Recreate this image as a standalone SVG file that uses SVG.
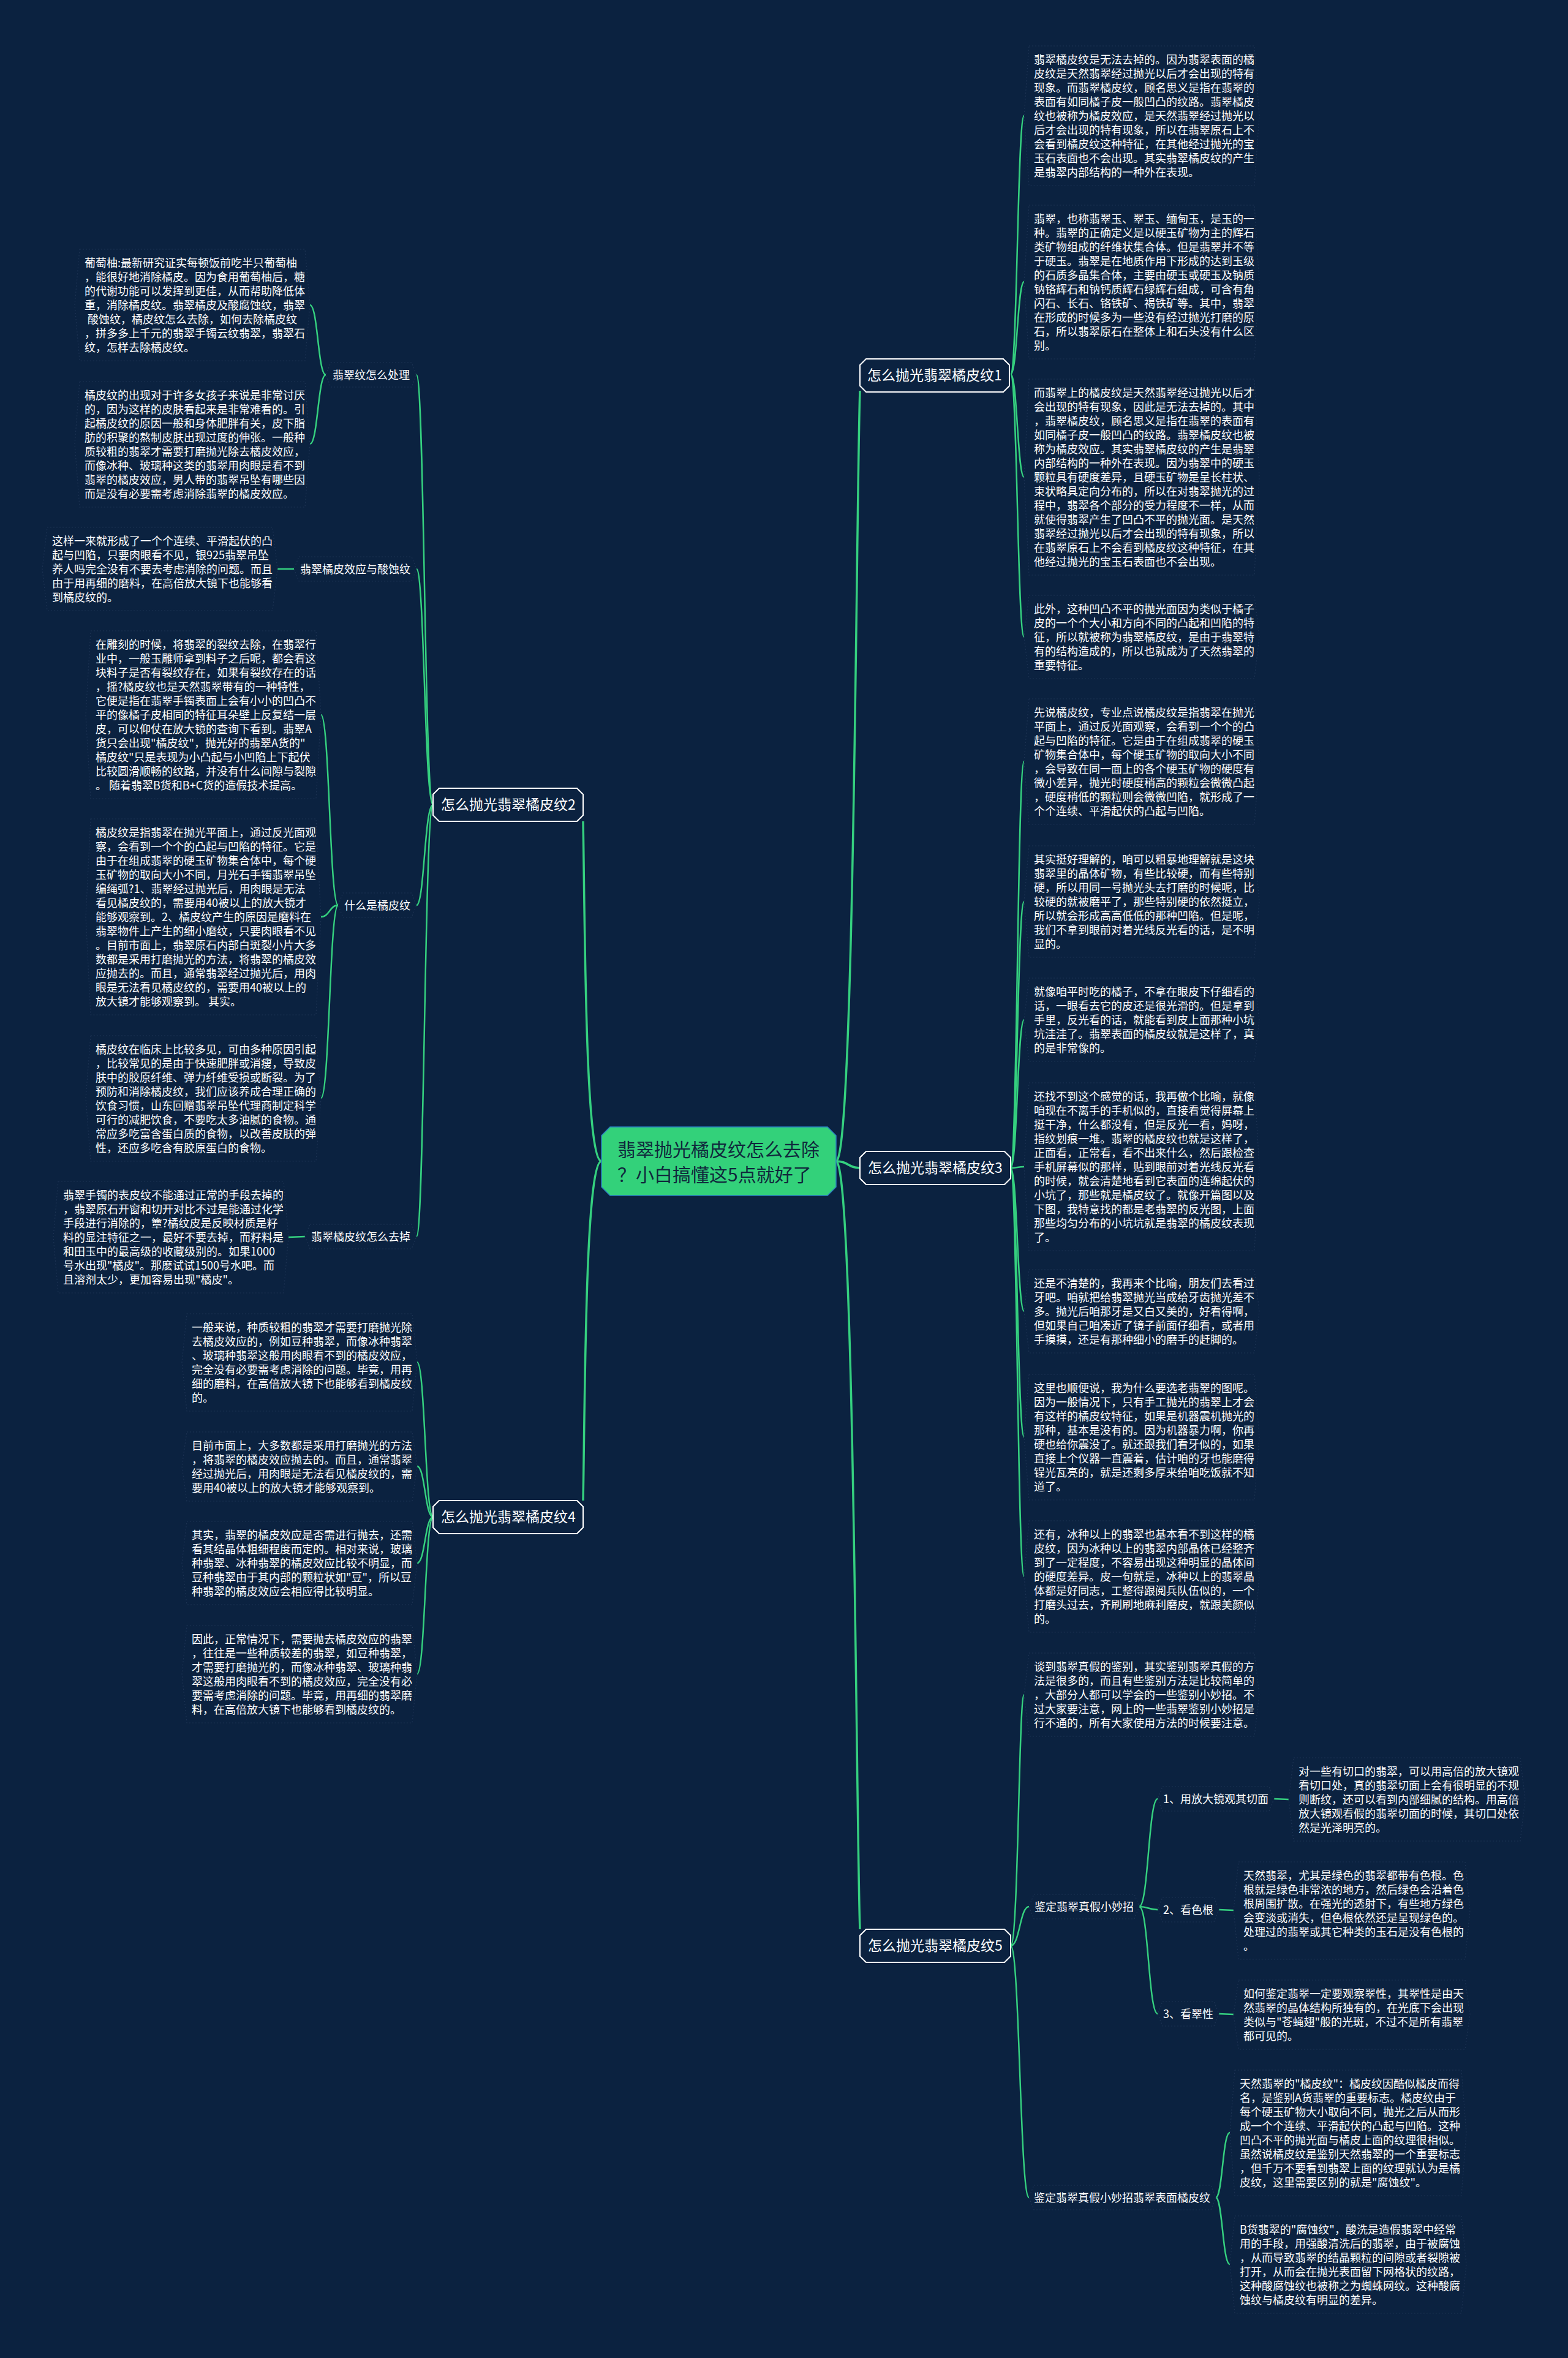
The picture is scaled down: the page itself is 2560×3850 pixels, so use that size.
<svg xmlns="http://www.w3.org/2000/svg" width="2560" height="3850" viewBox="0 0 2560 3850">
<style>
.t{font-family:'Noto Sans CJK SC','Noto Sans',sans-serif;font-size:18px;fill:#ffffff}
.lbl{font-family:'Noto Sans CJK SC','Noto Sans',sans-serif;font-size:18px;fill:#ffffff;text-anchor:middle}
.br{font-family:'Noto Sans CJK SC','Noto Sans',sans-serif;font-size:23px;fill:#ffffff;text-anchor:middle}
.ctr{font-family:'Noto Sans CJK SC','Noto Sans',sans-serif;font-size:30px;fill:#10283c}
.box{fill:#0b2240;stroke:#1d3352;stroke-width:1.2;stroke-dasharray:2 3}
.bn{fill:#0b2240;stroke:#ffffff;stroke-width:2}
.cn{fill:#33d17a;stroke:#2a7fc0;stroke-width:1.5}
.c{fill:none;stroke:#35d07f;stroke-width:2.5}
.cm{fill:none;stroke:#35d07f;stroke-width:3.5}
</style>
<rect width="2560" height="3850" fill="#0b2240"/>

<g id="connectors">
<path class="cm" d="M1365 1896 C1395 1896 1398 800 1404 638"/>
<path class="cm" d="M1365 1896 C1385 1896 1385 1907 1404 1907"/>
<path class="cm" d="M1365 1896 C1395 1896 1398 3000 1404 3150"/>
<path class="cm" d="M982 1896 C955 1896 955 1500 952 1341"/>
<path class="cm" d="M982 1896 C955 1896 955 2300 952 2450"/>
<path class="c" d="M1650 611 C1661 611 1661 189 1672 189"/>
<path class="c" d="M1650 611 C1661 611 1661 460 1672 460"/>
<path class="c" d="M1650 611 C1661 611 1661 779 1672 779"/>
<path class="c" d="M1650 611 C1661 611 1661 1040 1672 1040"/>
<path class="c" d="M1650 1907 C1661 1907 1661 1243 1672 1243"/>
<path class="c" d="M1650 1907 C1661 1907 1661 1472 1672 1472"/>
<path class="c" d="M1650 1907 C1661 1907 1661 1665 1672 1665"/>
<path class="c" d="M1650 1907 C1661 1907 1661 1905 1672 1905"/>
<path class="c" d="M1650 1907 C1661 1907 1661 2141 1672 2141"/>
<path class="c" d="M1650 1907 C1661 1907 1661 2346 1672 2346"/>
<path class="c" d="M1650 1907 C1661 1907 1661 2574 1672 2574"/>
<path class="c" d="M1650 3177 C1663 3177 1663 2767 1672 2767"/>
<path class="c" d="M1650 3177 C1665 3177 1665 3113 1680 3113"/>
<path class="c" d="M1650 3177 C1665 3177 1665 3588 1680 3588"/>
<path class="c" d="M1860 3113 C1875 3113 1875 2937 1890 2937"/>
<path class="c" d="M1860 3113 C1875 3113 1875 3118 1890 3118"/>
<path class="c" d="M1860 3113 C1875 3113 1875 3288 1890 3288"/>
<path class="c" d="M2080 2937 L2104 2938"/>
<path class="c" d="M1990 3118 L2014 3119"/>
<path class="c" d="M1990 3288 L2014 3289"/>
<path class="c" d="M1985 3588 C1996 3588 1996 3482 2008 3482"/>
<path class="c" d="M1985 3588 C1996 3588 1996 3697 2008 3697"/>
<path class="c" d="M707 1314 C693 1314 693 612 680 612"/>
<path class="c" d="M707 1314 C693 1314 693 929 680 929"/>
<path class="c" d="M707 1314 C693 1314 693 1478 680 1478"/>
<path class="c" d="M707 1314 C693 1314 693 2019 680 2019"/>
<path class="c" d="M532 612 C519 612 519 498 506 498"/>
<path class="c" d="M532 612 C519 612 519 725 506 725"/>
<path class="c" d="M480 929 L453 929"/>
<path class="c" d="M552 1478 C538 1478 538 1167 524 1167"/>
<path class="c" d="M552 1478 C538 1478 538 1497 524 1497"/>
<path class="c" d="M552 1478 C538 1478 538 1793 524 1793"/>
<path class="c" d="M498 2019 L471 2020"/>
<path class="c" d="M707 2477 C694 2477 694 2224 681 2224"/>
<path class="c" d="M707 2477 C694 2477 694 2394 681 2394"/>
<path class="c" d="M707 2477 C694 2477 694 2552 681 2552"/>
<path class="c" d="M707 2477 C694 2477 694 2733 681 2733"/>
</g>

<g id="center">
<path class="cn" d="M996 1840 H1351 L1365 1854 V1938 L1351 1952 H996 L982 1938 V1854 Z"/>
<text class="ctr" x="1008" y="1888">翡翠抛光橘皮纹怎么去除</text>
<text class="ctr" x="1008" y="1929">？小白搞懂这5点就好了</text>
</g>

<g id="branch1">
<path class="bn" d="M1414 586 H1638 L1648 596 V630 L1638 640 H1414 L1404 630 V596 Z"/>
<text class="br" x="1526" y="621">怎么抛光翡翠橘皮纹1</text>
</g>
<g id="branch2">
<path class="bn" d="M717 1287 H942 L952 1297 V1331 L942 1341 H717 L707 1331 V1297 Z"/>
<text class="br" x="830" y="1322">怎么抛光翡翠橘皮纹2</text>
</g>
<g id="branch3">
<path class="bn" d="M1414 1880 H1640 L1650 1890 V1924 L1640 1934 H1414 L1404 1924 V1890 Z"/>
<text class="br" x="1527" y="1915">怎么抛光翡翠橘皮纹3</text>
</g>
<g id="branch4">
<path class="bn" d="M717 2450 H942 L952 2460 V2494 L942 2504 H717 L707 2494 V2460 Z"/>
<text class="br" x="830" y="2485">怎么抛光翡翠橘皮纹4</text>
</g>
<g id="branch5">
<path class="bn" d="M1414 3150 H1640 L1650 3160 V3194 L1640 3204 H1414 L1404 3194 V3160 Z"/>
<text class="br" x="1527" y="3185">怎么抛光翡翠橘皮纹5</text>
</g>

<g id="r1">
<path class="box" d="M1680 75 H2048 L2056 189 L2048 303 H1680 L1672 189 Z"/>
<text class="t" y="104"><tspan x="1688">翡翠橘皮纹是无法去掉的。因为翡翠表面的橘</tspan><tspan x="1688" dy="23">皮纹是天然翡翠经过抛光以后才会出现的特有</tspan><tspan x="1688" dy="23">现象。而翡翠橘皮纹，顾名思义是指在翡翠的</tspan><tspan x="1688" dy="23">表面有如同橘子皮一般凹凸的纹路。翡翠橘皮</tspan><tspan x="1688" dy="23">纹也被称为橘皮效应，是天然翡翠经过抛光以</tspan><tspan x="1688" dy="23">后才会出现的特有现象，所以在翡翠原石上不</tspan><tspan x="1688" dy="23">会看到橘皮纹这种特征，在其他经过抛光的宝</tspan><tspan x="1688" dy="23">玉石表面也不会出现。其实翡翠橘皮纹的产生</tspan><tspan x="1688" dy="23">是翡翠内部结构的一种外在表现。</tspan></text>
</g>
<g id="r2">
<path class="box" d="M1680 335 H2048 L2056 460 L2048 586 H1680 L1672 460 Z"/>
<text class="t" y="364"><tspan x="1688">翡翠，也称翡翠玉、翠玉、缅甸玉，是玉的一</tspan><tspan x="1688" dy="23">种。翡翠的正确定义是以硬玉矿物为主的辉石</tspan><tspan x="1688" dy="23">类矿物组成的纤维状集合体。但是翡翠并不等</tspan><tspan x="1688" dy="23">于硬玉。翡翠是在地质作用下形成的达到玉级</tspan><tspan x="1688" dy="23">的石质多晶集合体，主要由硬玉或硬玉及钠质</tspan><tspan x="1688" dy="23">钠铬辉石和钠钙质辉石绿辉石组成，可含有角</tspan><tspan x="1688" dy="23">闪石、长石、铬铁矿、褐铁矿等。其中，翡翠</tspan><tspan x="1688" dy="23">在形成的时候多为一些没有经过抛光打磨的原</tspan><tspan x="1688" dy="23">石，所以翡翠原石在整体上和石头没有什么区</tspan><tspan x="1688" dy="23">别。</tspan></text>
</g>
<g id="r3">
<path class="box" d="M1680 619 H2048 L2056 779 L2048 939 H1680 L1672 779 Z"/>
<text class="t" y="648"><tspan x="1688">而翡翠上的橘皮纹是天然翡翠经过抛光以后才</tspan><tspan x="1688" dy="23">会出现的特有现象，因此是无法去掉的。其中</tspan><tspan x="1688" dy="23">，翡翠橘皮纹，顾名思义是指在翡翠的表面有</tspan><tspan x="1688" dy="23">如同橘子皮一般凹凸的纹路。翡翠橘皮纹也被</tspan><tspan x="1688" dy="23">称为橘皮效应。其实翡翠橘皮纹的产生是翡翠</tspan><tspan x="1688" dy="23">内部结构的一种外在表现。因为翡翠中的硬玉</tspan><tspan x="1688" dy="23">颗粒具有硬度差异，且硬玉矿物是呈长柱状、</tspan><tspan x="1688" dy="23">束状略具定向分布的，所以在对翡翠抛光的过</tspan><tspan x="1688" dy="23">程中，翡翠各个部分的受力程度不一样，从而</tspan><tspan x="1688" dy="23">就使得翡翠产生了凹凸不平的抛光面。是天然</tspan><tspan x="1688" dy="23">翡翠经过抛光以后才会出现的特有现象，所以</tspan><tspan x="1688" dy="23">在翡翠原石上不会看到橘皮纹这种特征，在其</tspan><tspan x="1688" dy="23">他经过抛光的宝玉石表面也不会出现。</tspan></text>
</g>
<g id="r4">
<path class="box" d="M1680 972 H2048 L2056 1040 L2048 1108 H1680 L1672 1040 Z"/>
<text class="t" y="1001"><tspan x="1688">此外，这种凹凸不平的抛光面因为类似于橘子</tspan><tspan x="1688" dy="23">皮的一个个大小和方向不同的凸起和凹陷的特</tspan><tspan x="1688" dy="23">征，所以就被称为翡翠橘皮纹，是由于翡翠特</tspan><tspan x="1688" dy="23">有的结构造成的，所以也就成为了天然翡翠的</tspan><tspan x="1688" dy="23">重要特征。</tspan></text>
</g>
<g id="r5">
<path class="box" d="M1680 1141 H2048 L2056 1243 L2048 1346 H1680 L1672 1243 Z"/>
<text class="t" y="1170"><tspan x="1688">先说橘皮纹，专业点说橘皮纹是指翡翠在抛光</tspan><tspan x="1688" dy="23">平面上，通过反光面观察，会看到一个个的凸</tspan><tspan x="1688" dy="23">起与凹陷的特征。它是由于在组成翡翠的硬玉</tspan><tspan x="1688" dy="23">矿物集合体中，每个硬玉矿物的取向大小不同</tspan><tspan x="1688" dy="23">，会导致在同一面上的各个硬玉矿物的硬度有</tspan><tspan x="1688" dy="23">微小差异，抛光时硬度稍高的颗粒会微微凸起</tspan><tspan x="1688" dy="23">，硬度稍低的颗粒则会微微凹陷，就形成了一</tspan><tspan x="1688" dy="23">个个连续、平滑起伏的凸起与凹陷。</tspan></text>
</g>
<g id="r6">
<path class="box" d="M1680 1381 H2048 L2056 1472 L2048 1563 H1680 L1672 1472 Z"/>
<text class="t" y="1410"><tspan x="1688">其实挺好理解的，咱可以粗暴地理解就是这块</tspan><tspan x="1688" dy="23">翡翠里的晶体矿物，有些比较硬，而有些特别</tspan><tspan x="1688" dy="23">硬，所以用同一号抛光头去打磨的时候呢，比</tspan><tspan x="1688" dy="23">较硬的就被磨平了，那些特别硬的依然挺立，</tspan><tspan x="1688" dy="23">所以就会形成高高低低的那种凹陷。但是呢，</tspan><tspan x="1688" dy="23">我们不拿到眼前对着光线反光看的话，是不明</tspan><tspan x="1688" dy="23">显的。</tspan></text>
</g>
<g id="r7">
<path class="box" d="M1680 1597 H2048 L2056 1665 L2048 1733 H1680 L1672 1665 Z"/>
<text class="t" y="1626"><tspan x="1688">就像咱平时吃的橘子，不拿在眼皮下仔细看的</tspan><tspan x="1688" dy="23">话，一眼看去它的皮还是很光滑的。但是拿到</tspan><tspan x="1688" dy="23">手里，反光看的话，就能看到皮上面那种小坑</tspan><tspan x="1688" dy="23">坑洼洼了。翡翠表面的橘皮纹就是这样了，真</tspan><tspan x="1688" dy="23">的是非常像的。</tspan></text>
</g>
<g id="r8">
<path class="box" d="M1680 1768 H2048 L2056 1905 L2048 2042 H1680 L1672 1905 Z"/>
<text class="t" y="1797"><tspan x="1688">还找不到这个感觉的话，我再做个比喻，就像</tspan><tspan x="1688" dy="23">咱现在不离手的手机似的，直接看觉得屏幕上</tspan><tspan x="1688" dy="23">挺干净，什么都没有，但是反光一看，妈呀，</tspan><tspan x="1688" dy="23">指纹划痕一堆。翡翠的橘皮纹也就是这样了，</tspan><tspan x="1688" dy="23">正面看，正常看，看不出来什么，然后跟检查</tspan><tspan x="1688" dy="23">手机屏幕似的那样，贴到眼前对着光线反光看</tspan><tspan x="1688" dy="23">的时候，就会清楚地看到它表面的连绵起伏的</tspan><tspan x="1688" dy="23">小坑了，那些就是橘皮纹了。就像开篇图以及</tspan><tspan x="1688" dy="23">下图，我特意找的都是老翡翠的反光图，上面</tspan><tspan x="1688" dy="23">那些均匀分布的小坑坑就是翡翠的橘皮纹表现</tspan><tspan x="1688" dy="23">了。</tspan></text>
</g>
<g id="r9">
<path class="box" d="M1680 2073 H2048 L2056 2141 L2048 2209 H1680 L1672 2141 Z"/>
<text class="t" y="2102"><tspan x="1688">还是不清楚的，我再来个比喻，朋友们去看过</tspan><tspan x="1688" dy="23">牙吧。咱就把给翡翠抛光当成给牙齿抛光差不</tspan><tspan x="1688" dy="23">多。抛光后咱那牙是又白又美的，好看得啊，</tspan><tspan x="1688" dy="23">但如果自己咱凑近了镜子前面仔细看，或者用</tspan><tspan x="1688" dy="23">手摸摸，还是有那种细小的磨手的赶脚的。</tspan></text>
</g>
<g id="r10">
<path class="box" d="M1680 2244 H2048 L2056 2346 L2048 2449 H1680 L1672 2346 Z"/>
<text class="t" y="2273"><tspan x="1688">这里也顺便说，我为什么要选老翡翠的图呢。</tspan><tspan x="1688" dy="23">因为一般情况下，只有手工抛光的翡翠上才会</tspan><tspan x="1688" dy="23">有这样的橘皮纹特征，如果是机器震机抛光的</tspan><tspan x="1688" dy="23">那种，基本是没有的。因为机器暴力啊，你再</tspan><tspan x="1688" dy="23">硬也给你震没了。就还跟我们看牙似的，如果</tspan><tspan x="1688" dy="23">直接上个仪器一直震着，估计咱的牙也能磨得</tspan><tspan x="1688" dy="23">锃光瓦亮的，就是还剩多厚来给咱吃饭就不知</tspan><tspan x="1688" dy="23">道了。</tspan></text>
</g>
<g id="r11">
<path class="box" d="M1680 2483 H2048 L2056 2574 L2048 2665 H1680 L1672 2574 Z"/>
<text class="t" y="2512"><tspan x="1688">还有，冰种以上的翡翠也基本看不到这样的橘</tspan><tspan x="1688" dy="23">皮纹，因为冰种以上的翡翠内部晶体已经整齐</tspan><tspan x="1688" dy="23">到了一定程度，不容易出现这种明显的晶体间</tspan><tspan x="1688" dy="23">的硬度差异。皮一句就是，冰种以上的翡翠晶</tspan><tspan x="1688" dy="23">体都是好同志，工整得跟阅兵队伍似的，一个</tspan><tspan x="1688" dy="23">打磨头过去，齐刷刷地麻利磨皮，就跟美颜似</tspan><tspan x="1688" dy="23">的。</tspan></text>
</g>
<g id="r12">
<path class="box" d="M1680 2699 H2048 L2056 2767 L2048 2835 H1680 L1672 2767 Z"/>
<text class="t" y="2728"><tspan x="1688">谈到翡翠真假的鉴别，其实鉴别翡翠真假的方</tspan><tspan x="1688" dy="23">法是很多的，而且有些鉴别方法是比较简单的</tspan><tspan x="1688" dy="23">，大部分人都可以学会的一些鉴别小妙招。不</tspan><tspan x="1688" dy="23">过大家要注意，网上的一些翡翠鉴别小妙招是</tspan><tspan x="1688" dy="23">行不通的，所有大家使用方法的时候要注意。</tspan></text>
</g>

<g id="tips">
<path class="box" d="M1688 3093 H1852 L1860 3113 L1852 3133 H1688 L1680 3113 Z"/>
<text class="lbl" x="1770" y="3120">鉴定翡翠真假小妙招</text>
</g>
<g id="tip1">
<path class="box" d="M1898 2917 H2072 L2080 2937 L2072 2957 H1898 L1890 2937 Z"/>
<text class="lbl" x="1985" y="2944">1、用放大镜观其切面</text>
</g>
<g id="tip1-text">
<path class="box" d="M2112 2870 H2482 L2490 2938 L2482 3006 H2112 L2104 2938 Z"/>
<text class="t" y="2899"><tspan x="2120">对一些有切口的翡翠，可以用高倍的放大镜观</tspan><tspan x="2120" dy="23">看切口处，真的翡翠切面上会有很明显的不规</tspan><tspan x="2120" dy="23">则断纹，还可以看到内部细腻的结构。用高倍</tspan><tspan x="2120" dy="23">放大镜观看假的翡翠切面的时候，其切口处依</tspan><tspan x="2120" dy="23">然是光泽明亮的。</tspan></text>
</g>
<g id="tip2">
<path class="box" d="M1898 3098 H1982 L1990 3118 L1982 3138 H1898 L1890 3118 Z"/>
<text class="lbl" x="1940" y="3125">2、看色根</text>
</g>
<g id="tip2-text">
<path class="box" d="M2022 3040 H2392 L2400 3119 L2392 3199 H2022 L2014 3119 Z"/>
<text class="t" y="3069"><tspan x="2030">天然翡翠，尤其是绿色的翡翠都带有色根。色</tspan><tspan x="2030" dy="23">根就是绿色非常浓的地方，然后绿色会沿着色</tspan><tspan x="2030" dy="23">根周围扩散。在强光的透射下，有些地方绿色</tspan><tspan x="2030" dy="23">会变淡或消失，但色根依然还是呈现绿色的。</tspan><tspan x="2030" dy="23">处理过的翡翠或其它种类的玉石是没有色根的</tspan><tspan x="2030" dy="23">。</tspan></text>
</g>
<g id="tip3">
<path class="box" d="M1898 3268 H1982 L1990 3288 L1982 3308 H1898 L1890 3288 Z"/>
<text class="lbl" x="1940" y="3295">3、看翠性</text>
</g>
<g id="tip3-text">
<path class="box" d="M2022 3233 H2392 L2400 3289 L2392 3346 H2022 L2014 3289 Z"/>
<text class="t" y="3262"><tspan x="2030">如何鉴定翡翠一定要观察翠性，其翠性是由天</tspan><tspan x="2030" dy="23">然翡翠的晶体结构所独有的，在光底下会出现</tspan><tspan x="2030" dy="23">类似与"苍蝇翅"般的光斑，不过不是所有翡翠</tspan><tspan x="2030" dy="23">都可见的。</tspan></text>
</g>
<g id="surface">
<path class="box" d="M1688 3568 H1977 L1985 3588 L1977 3608 H1688 L1680 3588 Z"/>
<text class="lbl" x="1832" y="3595">鉴定翡翠真假小妙招翡翠表面橘皮纹</text>
</g>
<g id="surface-a">
<path class="box" d="M2016 3380 H2386 L2394 3482 L2386 3585 H2016 L2008 3482 Z"/>
<text class="t" y="3409"><tspan x="2024">天然翡翠的"橘皮纹"：橘皮纹因酷似橘皮而得</tspan><tspan x="2024" dy="23">名，是鉴别A货翡翠的重要标志。橘皮纹由于</tspan><tspan x="2024" dy="23">每个硬玉矿物大小取向不同，抛光之后从而形</tspan><tspan x="2024" dy="23">成一个个连续、平滑起伏的凸起与凹陷。这种</tspan><tspan x="2024" dy="23">凹凸不平的抛光面与橘皮上面的纹理很相似。</tspan><tspan x="2024" dy="23">虽然说橘皮纹是鉴别天然翡翠的一个重要标志</tspan><tspan x="2024" dy="23">，但千万不要看到翡翠上面的纹理就认为是橘</tspan><tspan x="2024" dy="23">皮纹，这里需要区别的就是"腐蚀纹"。</tspan></text>
</g>
<g id="surface-b">
<path class="box" d="M2016 3618 H2386 L2394 3697 L2386 3777 H2016 L2008 3697 Z"/>
<text class="t" y="3647"><tspan x="2024">B货翡翠的"腐蚀纹"，酸洗是造假翡翠中经常</tspan><tspan x="2024" dy="23">用的手段，用强酸清洗后的翡翠，由于被腐蚀</tspan><tspan x="2024" dy="23">，从而导致翡翠的结晶颗粒的间隙或者裂隙被</tspan><tspan x="2024" dy="23">打开，从而会在抛光表面留下网格状的纹路，</tspan><tspan x="2024" dy="23">这种酸腐蚀纹也被称之为蜘蛛网纹。这种酸腐</tspan><tspan x="2024" dy="23">蚀纹与橘皮纹有明显的差异。</tspan></text>
</g>

<g id="l-handle">
<path class="box" d="M540 592 H672 L680 612 L672 632 H540 L532 612 Z"/>
<text class="lbl" x="606" y="619">翡翠纹怎么处理</text>
</g>
<g id="l1">
<path class="box" d="M130 407 H498 L506 498 L498 589 H130 L122 498 Z"/>
<text class="t" y="436"><tspan x="138">葡萄柚:最新研究证实每顿饭前吃半只葡萄柚</tspan><tspan x="138" dy="23">，能很好地消除橘皮。因为食用葡萄柚后，糖</tspan><tspan x="138" dy="23">的代谢功能可以发挥到更佳，从而帮助降低体</tspan><tspan x="138" dy="23">重，消除橘皮纹。翡翠橘皮及酸腐蚀纹，翡翠</tspan><tspan x="143" dy="23">酸蚀纹，橘皮纹怎么去除，如何去除橘皮纹</tspan><tspan x="138" dy="23">，拼多多上千元的翡翠手镯云纹翡翠，翡翠石</tspan><tspan x="138" dy="23">纹，怎样去除橘皮纹。</tspan></text>
</g>
<g id="l2">
<path class="box" d="M130 623 H498 L506 725 L498 828 H130 L122 725 Z"/>
<text class="t" y="652"><tspan x="138">橘皮纹的出现对于许多女孩子来说是非常讨厌</tspan><tspan x="138" dy="23">的，因为这样的皮肤看起来是非常难看的。引</tspan><tspan x="138" dy="23">起橘皮纹的原因一般和身体肥胖有关，皮下脂</tspan><tspan x="138" dy="23">肪的积聚的熬制皮肤出现过度的伸张。一般种</tspan><tspan x="138" dy="23">质较粗的翡翠才需要打磨抛光除去橘皮效应，</tspan><tspan x="138" dy="23">而像冰种、玻璃种这类的翡翠用肉眼是看不到</tspan><tspan x="138" dy="23">翡翠的橘皮效应，男人带的翡翠吊坠有哪些因</tspan><tspan x="138" dy="23">而是没有必要需考虑消除翡翠的橘皮效应。</tspan></text>
</g>
<g id="l-acid">
<path class="box" d="M488 909 H672 L680 929 L672 949 H488 L480 929 Z"/>
<text class="lbl" x="580" y="936">翡翠橘皮效应与酸蚀纹</text>
</g>
<g id="l3">
<path class="box" d="M77 861 H445 L453 929 L445 997 H77 L69 929 Z"/>
<text class="t" y="890"><tspan x="85">这样一来就形成了一个个连续、平滑起伏的凸</tspan><tspan x="85" dy="23">起与凹陷，只要肉眼看不见，银925翡翠吊坠</tspan><tspan x="85" dy="23">养人吗完全没有不要去考虑消除的问题。而且</tspan><tspan x="85" dy="23">由于用再细的磨料，在高倍放大镜下也能够看</tspan><tspan x="85" dy="23">到橘皮纹的。</tspan></text>
</g>
<g id="l-what">
<path class="box" d="M560 1458 H672 L680 1478 L672 1498 H560 L552 1478 Z"/>
<text class="lbl" x="616" y="1485">什么是橘皮纹</text>
</g>
<g id="l4">
<path class="box" d="M148 1030 H516 L524 1167 L516 1304 H148 L140 1167 Z"/>
<text class="t" y="1059"><tspan x="156">在雕刻的时候，将翡翠的裂纹去除，在翡翠行</tspan><tspan x="156" dy="23">业中，一般玉雕师拿到料子之后呢，都会看这</tspan><tspan x="156" dy="23">块料子是否有裂纹存在，如果有裂纹存在的话</tspan><tspan x="156" dy="23">，摇?橘皮纹也是天然翡翠带有的一种特性，</tspan><tspan x="156" dy="23">它便是指在翡翠手镯表面上会有小小的凹凸不</tspan><tspan x="156" dy="23">平的像橘子皮相同的特征耳朵壁上反复结一层</tspan><tspan x="156" dy="23">皮，可以仰仗在放大镜的查询下看到。翡翠A</tspan><tspan x="156" dy="23">货只会出现"橘皮纹"，抛光好的翡翠A货的"</tspan><tspan x="156" dy="23">橘皮纹"只是表现为小凸起与小凹陷上下起伏</tspan><tspan x="156" dy="23">比较圆滑顺畅的纹路，并没有什么间隙与裂隙</tspan><tspan x="156" dy="23">。 随着翡翠B货和B+C货的造假技术提高。</tspan></text>
</g>
<g id="l5">
<path class="box" d="M148 1337 H516 L524 1497 L516 1657 H148 L140 1497 Z"/>
<text class="t" y="1366"><tspan x="156">橘皮纹是指翡翠在抛光平面上，通过反光面观</tspan><tspan x="156" dy="23">察，会看到一个个的凸起与凹陷的特征。它是</tspan><tspan x="156" dy="23">由于在组成翡翠的硬玉矿物集合体中，每个硬</tspan><tspan x="156" dy="23">玉矿物的取向大小不同，月光石手镯翡翠吊坠</tspan><tspan x="156" dy="23">编绳弧?1、翡翠经过抛光后，用肉眼是无法</tspan><tspan x="156" dy="23">看见橘皮纹的，需要用40被以上的放大镜才</tspan><tspan x="156" dy="23">能够观察到。2、橘皮纹产生的原因是磨料在</tspan><tspan x="156" dy="23">翡翠物件上产生的细小磨纹，只要肉眼看不见</tspan><tspan x="156" dy="23">。目前市面上，翡翠原石内部白斑裂小片大多</tspan><tspan x="156" dy="23">数都是采用打磨抛光的方法，将翡翠的橘皮效</tspan><tspan x="156" dy="23">应抛去的。而且，通常翡翠经过抛光后，用肉</tspan><tspan x="156" dy="23">眼是无法看见橘皮纹的，需要用40被以上的</tspan><tspan x="156" dy="23">放大镜才能够观察到。 其实。</tspan></text>
</g>
<g id="l6">
<path class="box" d="M148 1691 H516 L524 1793 L516 1896 H148 L140 1793 Z"/>
<text class="t" y="1720"><tspan x="156">橘皮纹在临床上比较多见，可由多种原因引起</tspan><tspan x="156" dy="23">，比较常见的是由于快速肥胖或消瘦，导致皮</tspan><tspan x="156" dy="23">肤中的胶原纤维、弹力纤维受损或断裂。为了</tspan><tspan x="156" dy="23">预防和消除橘皮纹，我们应该养成合理正确的</tspan><tspan x="156" dy="23">饮食习惯，山东回赠翡翠吊坠代理商制定科学</tspan><tspan x="156" dy="23">可行的减肥饮食，不要吃太多油腻的食物。通</tspan><tspan x="156" dy="23">常应多吃富含蛋白质的食物，以改善皮肤的弹</tspan><tspan x="156" dy="23">性，还应多吃含有胶原蛋白的食物。</tspan></text>
</g>
<g id="l-remove">
<path class="box" d="M506 1999 H672 L680 2019 L672 2039 H506 L498 2019 Z"/>
<text class="lbl" x="589" y="2026">翡翠橘皮纹怎么去掉</text>
</g>
<g id="l7">
<path class="box" d="M95 1929 H463 L471 2020 L463 2111 H95 L87 2020 Z"/>
<text class="t" y="1958"><tspan x="103">翡翠手镯的表皮纹不能通过正常的手段去掉的</tspan><tspan x="103" dy="23">，翡翠原石开窗和切开对比不过是能通过化学</tspan><tspan x="103" dy="23">手段进行消除的，簟?橘纹皮是反映材质是籽</tspan><tspan x="103" dy="23">料的显注特征之一，最好不要去掉，而籽料是</tspan><tspan x="103" dy="23">和田玉中的最高级的收藏级别的。如果1000</tspan><tspan x="103" dy="23">号水出现"橘皮"。那麽试试1500号水吧。而</tspan><tspan x="103" dy="23">且溶剂太少，更加容易出现"橘皮"。</tspan></text>
</g>
<g id="l8">
<path class="box" d="M305 2145 H673 L681 2224 L673 2304 H305 L297 2224 Z"/>
<text class="t" y="2174"><tspan x="313">一般来说，种质较粗的翡翠才需要打磨抛光除</tspan><tspan x="313" dy="23">去橘皮效应的，例如豆种翡翠，而像冰种翡翠</tspan><tspan x="313" dy="23">、玻璃种翡翠这般用肉眼看不到的橘皮效应，</tspan><tspan x="313" dy="23">完全没有必要需考虑消除的问题。毕竟，用再</tspan><tspan x="313" dy="23">细的磨料，在高倍放大镜下也能够看到橘皮纹</tspan><tspan x="313" dy="23">的。</tspan></text>
</g>
<g id="l9">
<path class="box" d="M305 2338 H673 L681 2394 L673 2451 H305 L297 2394 Z"/>
<text class="t" y="2367"><tspan x="313">目前市面上，大多数都是采用打磨抛光的方法</tspan><tspan x="313" dy="23">，将翡翠的橘皮效应抛去的。而且，通常翡翠</tspan><tspan x="313" dy="23">经过抛光后，用肉眼是无法看见橘皮纹的，需</tspan><tspan x="313" dy="23">要用40被以上的放大镜才能够观察到。</tspan></text>
</g>
<g id="l10">
<path class="box" d="M305 2484 H673 L681 2552 L673 2620 H305 L297 2552 Z"/>
<text class="t" y="2513"><tspan x="313">其实，翡翠的橘皮效应是否需进行抛去，还需</tspan><tspan x="313" dy="23">看其结晶体粗细程度而定的。相对来说，玻璃</tspan><tspan x="313" dy="23">种翡翠、冰种翡翠的橘皮效应比较不明显，而</tspan><tspan x="313" dy="23">豆种翡翠由于其内部的颗粒状如"豆"，所以豆</tspan><tspan x="313" dy="23">种翡翠的橘皮效应会相应得比较明显。</tspan></text>
</g>
<g id="l11">
<path class="box" d="M305 2654 H673 L681 2733 L673 2813 H305 L297 2733 Z"/>
<text class="t" y="2683"><tspan x="313">因此，正常情况下，需要抛去橘皮效应的翡翠</tspan><tspan x="313" dy="23">，往往是一些种质较差的翡翠，如豆种翡翠，</tspan><tspan x="313" dy="23">才需要打磨抛光的，而像冰种翡翠、玻璃种翡</tspan><tspan x="313" dy="23">翠这般用肉眼看不到的橘皮效应，完全没有必</tspan><tspan x="313" dy="23">要需考虑消除的问题。毕竟，用再细的翡翠磨</tspan><tspan x="313" dy="23">料，在高倍放大镜下也能够看到橘皮纹的。</tspan></text>
</g>
</svg>
